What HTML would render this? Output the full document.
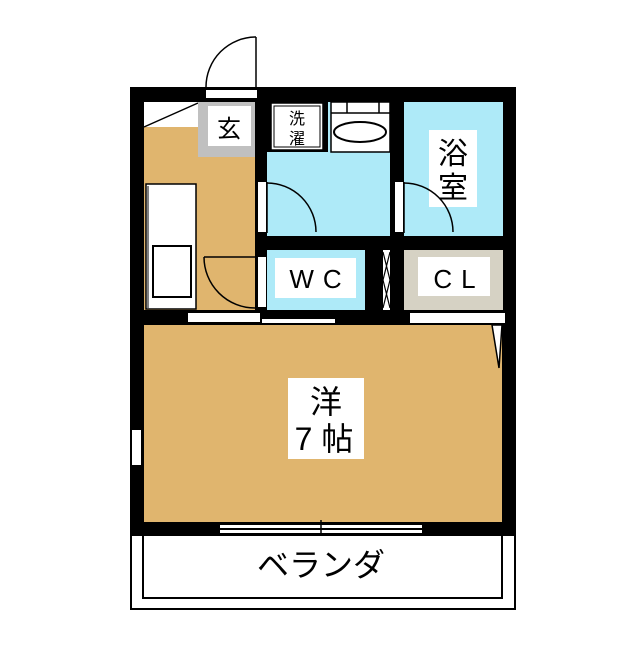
<!DOCTYPE html>
<html><head><meta charset="utf-8"><style>
html,body{margin:0;padding:0;background:#fff;}
svg text{font-family:"Liberation Sans","Noto Sans CJK JP",sans-serif;fill:#000;}
</style></head><body>
<svg width="640" height="640" viewBox="0 0 640 640" xmlns="http://www.w3.org/2000/svg">
<rect x="130" y="87" width="386" height="448" fill="#000"/>
<rect x="144" y="102" width="111" height="208" fill="#e0b56e"/>
<polygon points="144,102 198,102 198,127 144,127" fill="#fff"/>
<line x1="144" y1="127" x2="198" y2="103" stroke="#000" stroke-width="1.5"/>
<rect x="198" y="102" width="57" height="55" fill="#c0c0c0"/>
<rect x="208" y="106" width="43" height="40" fill="#fff"/>
<text x="229" y="137" font-size="24" text-anchor="middle">玄</text>
<rect x="206" y="90" width="51" height="8" fill="#fff"/>
<line x1="256" y1="37" x2="256" y2="88" stroke="#000" stroke-width="1.5"/>
<path d="M256,37 A50,50 0 0 0 206,87" fill="none" stroke="#000" stroke-width="1.5"/>
<rect x="146" y="184" width="50" height="125" fill="#fff" stroke="#000" stroke-width="1.5"/>
<line x1="148" y1="186" x2="148" y2="308" stroke="#000" stroke-width="1"/>
<rect x="153" y="246" width="38" height="51" fill="#fff" stroke="#000" stroke-width="2"/>
<line x1="204" y1="257" x2="255" y2="257" stroke="#000" stroke-width="1.5"/>
<path d="M204,257 A51,51 0 0 0 255,308" fill="none" stroke="#000" stroke-width="1.5"/>
<rect x="267" y="102" width="123" height="134" fill="#aeeaf8"/>
<rect x="267" y="102" width="61" height="50" fill="#000"/>
<rect x="271" y="103" width="52" height="47" fill="#fff" stroke="#000" stroke-width="1.5"/>
<rect x="274" y="106" width="46" height="41" fill="#fff" stroke="#000" stroke-width="1"/>
<text x="297" y="124" font-size="16" text-anchor="middle">洗</text>
<text x="297" y="144" font-size="16" text-anchor="middle">濯</text>
<rect x="331" y="102" width="59" height="50" fill="#fff" stroke="#000" stroke-width="1.5"/>
<line x1="331" y1="113" x2="390" y2="113" stroke="#000" stroke-width="1.5"/>
<line x1="347" y1="102" x2="347" y2="113" stroke="#000" stroke-width="1.5"/>
<line x1="379" y1="102" x2="379" y2="113" stroke="#000" stroke-width="1.5"/>
<ellipse cx="360" cy="132" rx="26" ry="10" fill="#fff" stroke="#000" stroke-width="2"/>
<rect x="258" y="182" width="8" height="50" fill="#fff"/>
<line x1="267" y1="182" x2="267" y2="233" stroke="#000" stroke-width="1.5"/>
<path d="M267,183 A49,49 0 0 1 316,232" fill="none" stroke="#000" stroke-width="1.5"/>
<rect x="404" y="102" width="99" height="134" fill="#aeeaf8"/>
<rect x="429" y="130" width="48" height="77" fill="#fff"/>
<text x="453" y="164" font-size="30" text-anchor="middle">浴</text>
<text x="453" y="198" font-size="30" text-anchor="middle">室</text>
<rect x="395" y="182" width="8" height="50" fill="#fff"/>
<line x1="404" y1="182" x2="404" y2="233" stroke="#000" stroke-width="1.5"/>
<path d="M404,183 A49,49 0 0 1 453,232" fill="none" stroke="#000" stroke-width="1.5"/>
<rect x="267" y="250" width="98" height="60" fill="#aeeaf8"/>
<rect x="275" y="258" width="81" height="40" fill="#fff"/>
<text x="320" y="288" font-size="26" text-anchor="middle" letter-spacing="9">WC</text>
<rect x="258" y="257" width="8" height="50" fill="#fff"/>
<rect x="383" y="250" width="7" height="60" fill="#fff"/>
<path d="M383,252 L390,280 L383,308 M390,252 L383,280 L390,308" fill="none" stroke="#000" stroke-width="1.2"/>
<rect x="404" y="250" width="99" height="60" fill="#d6d2c4"/>
<rect x="418" y="257" width="72" height="39" fill="#fff"/>
<text x="459" y="288" font-size="26" text-anchor="middle" letter-spacing="9">CL</text>
<rect x="188" y="313" width="72" height="9" fill="#fff"/>
<rect x="262" y="319" width="73" height="4" fill="#fff"/>
<rect x="410" y="313" width="95" height="10" fill="#fff"/>
<rect x="144" y="325" width="358" height="197" fill="#e0b56e"/>
<polygon points="492,325 502,325 499,368" fill="#fff" stroke="#000" stroke-width="1.5"/>
<rect x="132" y="430" width="9" height="35" fill="#fff"/>
<rect x="288" y="378" width="76" height="81" fill="#fff"/>
<text x="326" y="413" font-size="32" text-anchor="middle">洋</text>
<text x="324" y="450" font-size="32" text-anchor="middle">7 帖</text>
<rect x="220" y="525" width="202" height="3" fill="#fff"/>
<rect x="220" y="530" width="202" height="3" fill="#fff"/>
<line x1="321" y1="520" x2="321" y2="535" stroke="#000" stroke-width="1.5"/>
<rect x="131" y="535" width="384" height="74" fill="#fff" stroke="#000" stroke-width="2"/>
<rect x="143" y="535" width="359" height="63" fill="#fff" stroke="#000" stroke-width="2"/>
<text x="321" y="576" font-size="32" text-anchor="middle">ベランダ</text>
</svg>
</body></html>
